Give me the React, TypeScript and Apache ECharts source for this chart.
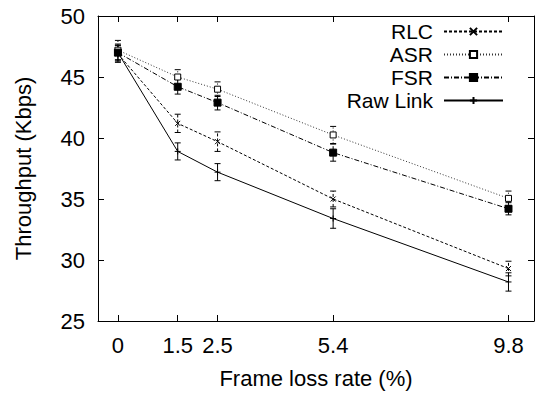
import React, { useEffect, useRef } from 'react';
import * as echarts from 'echarts';

const lossRates = [0, 1.5, 2.5, 5.4, 9.8];
const xTickValues = [0, 1.5, 2.5, 5.4, 9.8];
const seriesNames = ['RLC', 'ASR', 'FSR', 'Raw Link'];
const rlc = [46.9, 41.2, 39.7, 35.0, 29.3];
const asr = [47.2, 45.0, 44.0, 40.25, 35.05];
const fsr = [47.0, 44.2, 42.9, 38.8, 34.2];
const rawLink = [47.0, 38.9, 37.2, 33.4, 28.2];
const rlcErr = [0.7, 0.75, 0.8, 0.65, 0.6];
const asrErr = [0.8, 0.6, 0.6, 0.7, 0.6];
const fsrErr = [0.7, 0.6, 0.6, 0.7, 0.5];
const rawLinkErr = [0.6, 0.7, 0.7, 0.8, 0.75];

const FONT = "'Liberation Sans', Arial, sans-serif";

export default function App() {
  const ref = useRef<HTMLDivElement>(null);
  useEffect(() => {
    if (!ref.current) return;
    const chart = echarts.init(ref.current, null, { renderer: 'svg' });

    const values = [rlc, asr, fsr, rawLink];
    const errs = [rlcErr, asrErr, fsrErr, rawLinkErr];
    const dashes: any[] = [[3, 2], [1, 2], [5, 2, 1, 2], 'solid'];
    const symbols = [
      'path://M0,0L1,1M1,0L0,1',
      'rect',
      'rect',
      'path://M0.5,0L0.5,1M0,0.5L1,0.5',
    ];
    const symbolSizes = [5, 6, 7, 6];
    const fills = ['#000', '#fff', '#000', '#000'];

    const lineSeries = seriesNames.map((name, i) => ({
      name,
      type: 'line',
      data: lossRates.map((x, j) => [x, values[i][j]]),
      symbol: symbols[i],
      symbolSize: symbolSizes[i],
      showSymbol: true,
      lineStyle: { color: i === 1 ? '#333' : '#000', width: 1, type: dashes[i] },
      itemStyle: { color: fills[i], borderColor: '#000', borderWidth: 1 },
      z: 3,
    }));

    const errSeries = seriesNames.map((name, i) => ({
      name: name + ' err',
      type: 'custom',
      data: lossRates.map((x, j) => [x, values[i][j] - errs[i][j], values[i][j] + errs[i][j]]),
      encode: { x: 0, y: [1, 2] },
      z: 2,
      renderItem: (params: any, api: any) => {
        const x = api.value(0);
        const lo = api.coord([x, api.value(1)]);
        const hi = api.coord([x, api.value(2)]);
        const w = 3;
        const style = {
          stroke: '#000',
          lineWidth: 1,
          lineDash: Array.isArray(dashes[i]) ? dashes[i] : null,
        };
        return {
          type: 'group',
          children: [
            { type: 'line', shape: { x1: lo[0], y1: lo[1], x2: hi[0], y2: hi[1] }, style },
            { type: 'line', shape: { x1: lo[0] - w, y1: lo[1], x2: lo[0] + w, y2: lo[1] }, style: { stroke: '#000', lineWidth: 1 } },
            { type: 'line', shape: { x1: hi[0] - w, y1: hi[1], x2: hi[0] + w, y2: hi[1] }, style: { stroke: '#000', lineWidth: 1 } },
          ],
        };
      },
    }));

    const axisCommonLine = { show: true, lineStyle: { color: '#000', width: 1 } };

    chart.setOption({
      animation: false,
      textStyle: { fontFamily: FONT },
      grid: { left: 98, top: 16, right: 1, bottom: 70, containLabel: false },
      legend: {
        data: seriesNames,
        orient: 'vertical',
        align: 'right',
        right: 26,
        top: 16,
        itemWidth: 59,
        itemHeight: 9,
        itemGap: 2,
        textStyle: { fontSize: 21, color: '#000', fontFamily: FONT, padding: [0, 6, 0, 0], lineHeight: 20 },
        inactiveColor: '#000',
        selectedMode: false,
      },
      xAxis: [
        {
          type: 'value',
          min: -0.5,
          max: 10.44,
          position: 'bottom',
          name: 'Frame loss rate (%)',
          nameLocation: 'middle',
          nameGap: 46,
          nameTextStyle: { fontSize: 22, color: '#000', fontFamily: FONT, lineHeight: 22 },
          axisLine: { ...axisCommonLine, onZero: false },
          axisTick: { show: true, inside: true, length: 6, customValues: xTickValues, lineStyle: { color: '#000' } },
          axisLabel: {
            show: true,
            customValues: xTickValues,
            margin: 13,
            fontSize: 22,
            lineHeight: 22,
            color: '#000',
            fontFamily: FONT,
            formatter: (v: number) => String(v),
          },
          splitLine: { show: false },
        },
        {
          type: 'value',
          min: -0.5,
          max: 10.44,
          position: 'top',
          axisLine: { ...axisCommonLine, onZero: false },
          axisTick: { show: true, inside: true, length: 6, customValues: xTickValues, lineStyle: { color: '#000' } },
          axisLabel: { show: false },
          splitLine: { show: false },
        },
      ],
      yAxis: [
        {
          type: 'value',
          min: 25,
          max: 50,
          interval: 5,
          position: 'left',
          name: 'Throughput (Kbps)',
          nameLocation: 'middle',
          nameGap: 64,
          nameTextStyle: { fontSize: 22, color: '#000', fontFamily: FONT, lineHeight: 22 },
          axisLine: { ...axisCommonLine, onZero: false },
          axisTick: { show: true, inside: true, length: 6, lineStyle: { color: '#000' } },
          axisLabel: { show: true, margin: 13, fontSize: 22, color: '#000', fontFamily: FONT },
          splitLine: { show: false },
        },
        {
          type: 'value',
          min: 25,
          max: 50,
          interval: 5,
          position: 'right',
          axisLine: { ...axisCommonLine, onZero: false },
          axisTick: { show: true, inside: true, length: 6, lineStyle: { color: '#000' } },
          axisLabel: { show: false },
          splitLine: { show: false },
        },
      ],
      series: [...errSeries, ...lineSeries],
    });
    return () => chart.dispose();
  }, []);
  return (
    <div
      ref={ref}
      style={{ position: 'fixed', left: 0, top: 0, width: 535, height: 394, background: '#fff' }}
    />
  );
}
